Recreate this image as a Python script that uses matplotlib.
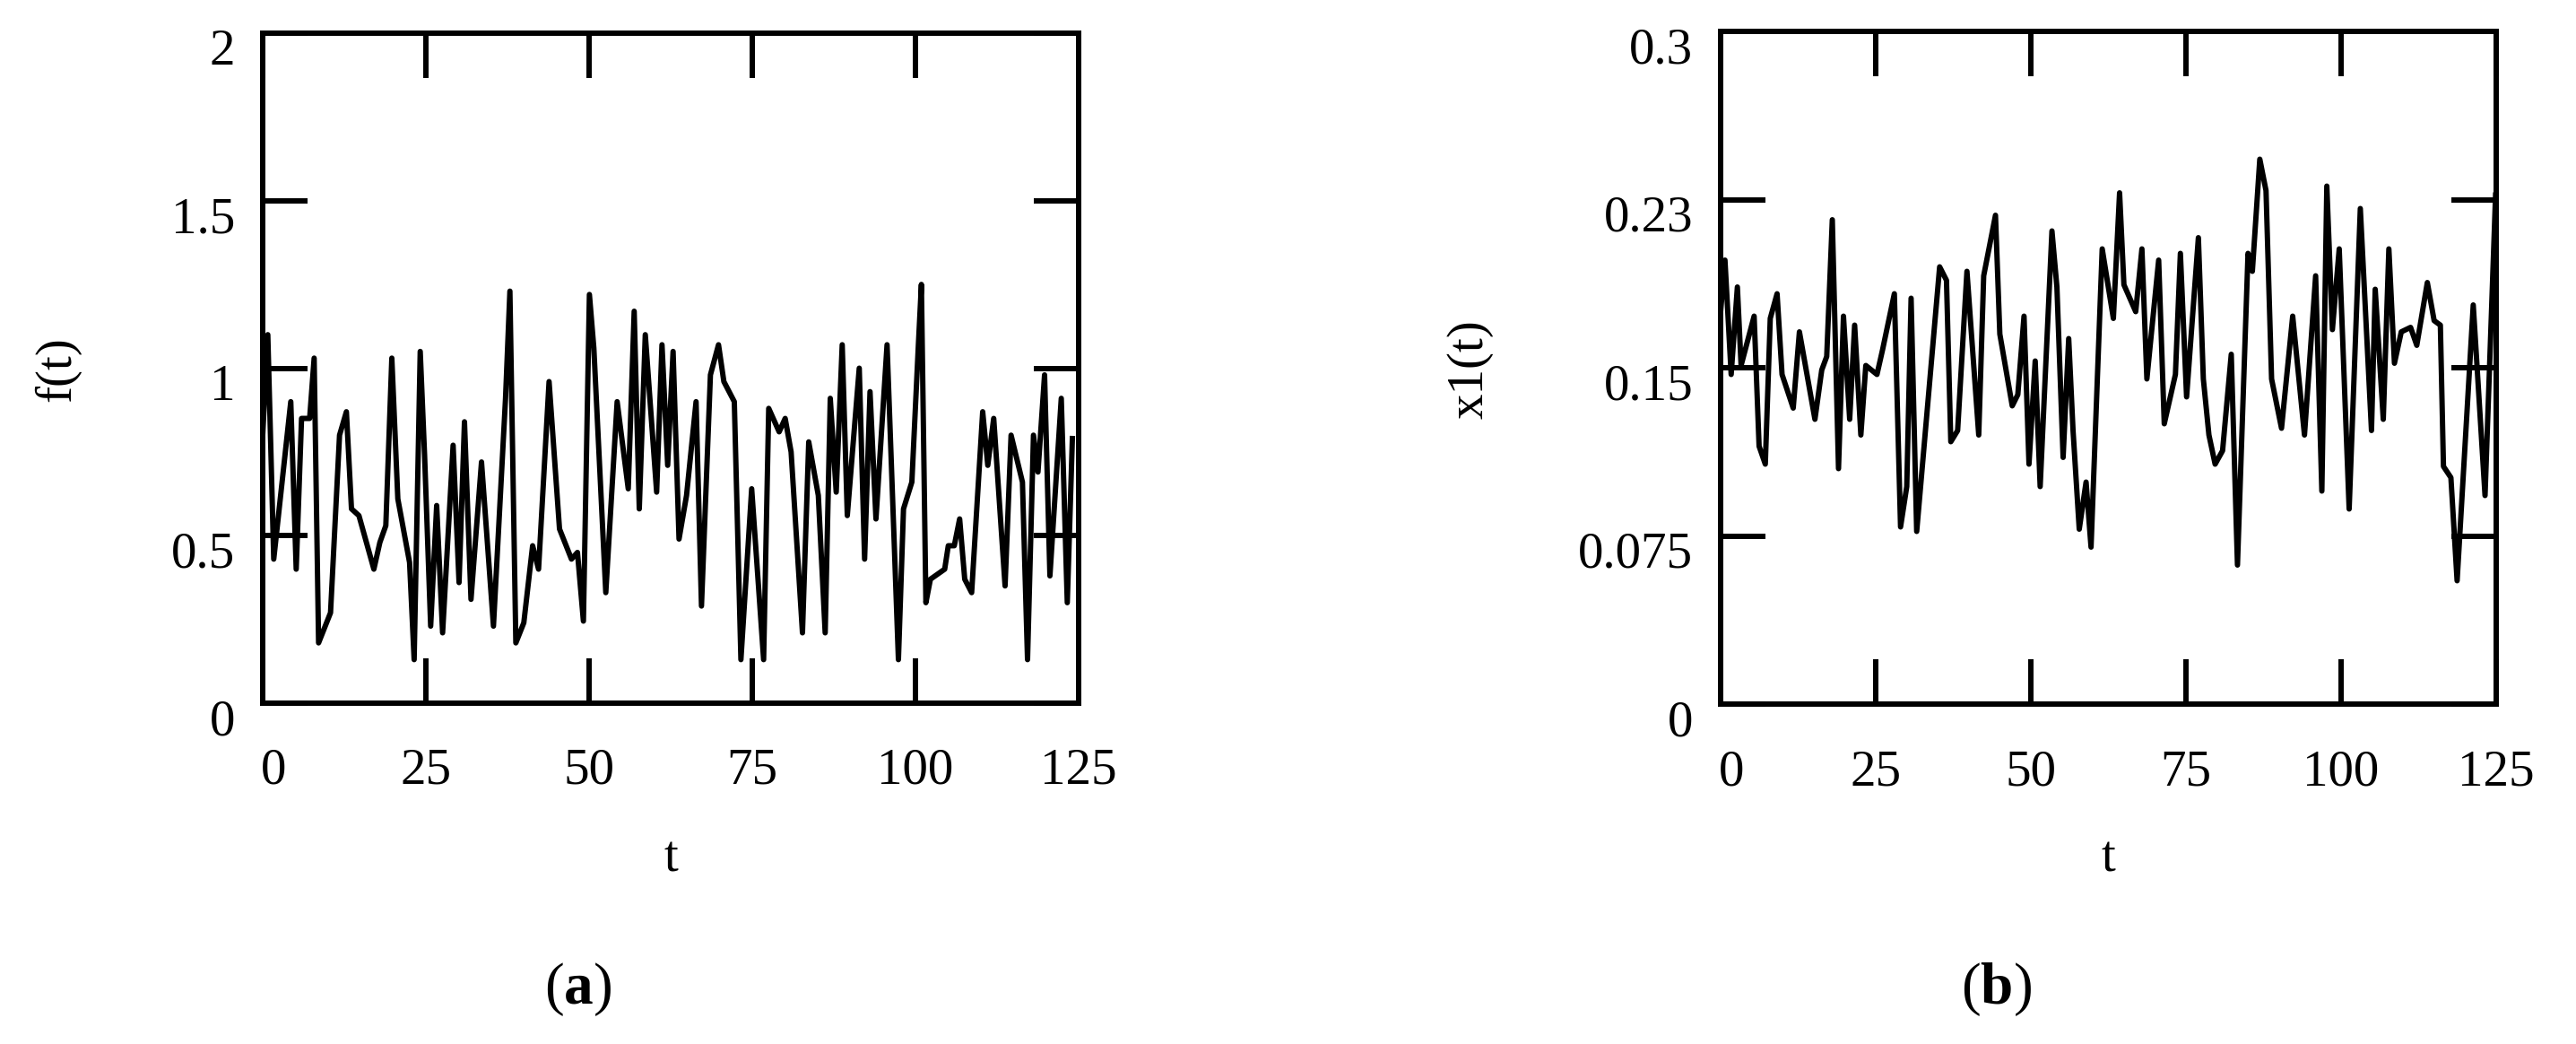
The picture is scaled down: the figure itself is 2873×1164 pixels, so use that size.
import matplotlib
matplotlib.use('Agg')
import matplotlib.pyplot as plt
from matplotlib.transforms import ScaledTranslation

plt.rcParams['font.family'] = ['Liberation Serif', 'DejaVu Serif']
plt.rcParams['mathtext.fontset'] = 'custom'
plt.rcParams['mathtext.rm'] = 'Liberation Serif'
plt.rcParams['mathtext.bf'] = 'Liberation Serif:bold'

# ---------------- data ----------------
x_ticks = [0, 25, 50, 75, 100, 125]
x_tick_labels = ['0', '25', '50', '75', '100', '125']

f_y_ticks = [0, 0.5, 1, 1.5, 2]
f_y_tick_labels = ['0', '0.5', '1', '1.5', '2']

x1_y_ticks = [0, 0.075, 0.15, 0.225, 0.3]
x1_y_tick_labels = ['0', '0.075', '0.15', '0.23', '0.3']

# panel (a): f(t)
f_t = [0, 0.78, 1.69, 4.30, 5.13, 5.95, 7.19, 7.88, 8.56, 10.39, 11.77, 12.82,
       13.60, 14.74, 17.03, 17.95, 18.86, 19.78, 20.70, 22.5, 23.2, 24.13, 24.8,
       25.73, 26.65, 27.56, 29.17, 30.08, 30.91, 31.91, 33.52, 35.35, 37.2, 37.87,
       38.78, 40.0, 41.35, 42.26, 43.87, 45.47, 47.30, 48.22, 49.13, 50.05, 50.73,
       52.56, 54.30, 56.00, 56.91, 57.69, 58.61, 60.35, 61.17, 62.04, 62.87, 63.78,
       64.93, 66.39, 67.22, 68.59, 69.83, 70.65, 72.25, 73.26, 74.91, 76.74, 77.52,
       79.12, 80.04, 80.95, 82.69, 83.65, 85.12, 86.17, 86.95, 87.86, 88.78, 89.56,
       91.39, 92.21, 93.04, 93.95, 95.65, 97.39, 98.17, 99.45, 100.45, 100.91,
       101.60, 102.29, 104.48, 105.03, 105.95, 106.77, 107.55, 108.61, 110.30,
       111.08, 111.99, 113.73, 114.65, 116.39, 117.17, 118.08, 118.77, 119.78,
       120.60, 122.34, 123.26, 124.04]
f_val = [0.80, 1.10, 0.43, 0.90, 0.40, 0.85, 0.85, 1.03, 0.18, 0.27, 0.80, 0.87,
         0.58, 0.56, 0.40, 0.48, 0.53, 1.03, 0.61, 0.42, 0.13, 1.05, 0.74,
         0.23, 0.59, 0.21, 0.77, 0.36, 0.84, 0.31, 0.72, 0.23, 0.91, 1.23,
         0.18, 0.24, 0.47, 0.40, 0.96, 0.52, 0.43, 0.45, 0.245, 1.22, 1.06,
         0.33, 0.90, 0.64, 1.17, 0.58, 1.10, 0.63, 1.07, 0.71, 1.05, 0.49,
         0.62, 0.90, 0.29, 0.98, 1.07, 0.96, 0.90, 0.13, 0.64, 0.13, 0.88,
         0.81, 0.85, 0.75, 0.21, 0.78, 0.62, 0.21, 0.91, 0.63, 1.07, 0.56,
         1.00, 0.43, 0.93, 0.55, 1.07, 0.13, 0.58, 0.66, 1.07, 1.25,
         0.30, 0.37, 0.40, 0.47, 0.47, 0.55, 0.37, 0.33, 0.87,
         0.71, 0.85, 0.35, 0.80, 0.66, 0.13, 0.80, 0.69, 0.98,
         0.38, 0.91, 0.30, 0.79]

# panel (b): x1(t)
x1_t = [0, 0.7, 1.7, 2.7, 3.3, 5.4, 6.2, 7.2, 8.0, 9.1, 9.9, 11.7, 12.7, 15.2,
        16.3, 17.1, 18.0, 19.0, 19.8, 20.8, 21.6, 22.6, 23.4, 25.2, 26.1, 28.0,
        29.0, 30.0, 30.7, 31.6, 35.3, 36.4, 37.1, 38.2, 39.7, 41.6, 42.4, 44.3,
        45.0, 47.0, 47.9, 48.9, 49.7, 50.7, 51.5, 53.4, 54.2, 55.2, 56.1, 56.8,
        57.8, 58.9, 59.7, 61.5, 63.3, 64.3, 65.0, 66.9, 67.9, 68.7, 70.6, 71.5,
        73.3, 74.1, 75.1, 77.0, 77.8, 78.7, 79.7, 80.9, 82.3, 83.3, 85.0, 85.7,
        86.9, 87.9, 88.8, 90.4, 92.2, 94.1, 95.9, 96.9, 97.7, 98.6, 99.7, 101.3,
        103.1, 104.9, 105.5, 106.8, 107.7, 108.6, 109.7, 111.2, 112.2, 113.9,
        115.0, 116.0, 116.5, 117.7, 118.7, 121.3, 123.2, 124.9]
x1_val = [0.175, 0.198, 0.147, 0.186, 0.151, 0.173, 0.115, 0.107, 0.172, 0.183,
          0.147, 0.132, 0.166, 0.127, 0.149, 0.155, 0.216, 0.105, 0.173, 0.127,
          0.169, 0.120, 0.151, 0.147, 0.158, 0.183, 0.079, 0.097, 0.181, 0.077,
          0.195, 0.189, 0.117, 0.122, 0.193, 0.120, 0.191, 0.218, 0.165, 0.133,
          0.138, 0.173, 0.107, 0.153, 0.097, 0.211, 0.186, 0.110, 0.163, 0.122,
          0.078, 0.099, 0.070, 0.203, 0.172, 0.228, 0.187, 0.175, 0.203, 0.145,
          0.198, 0.125, 0.147, 0.201, 0.137, 0.208, 0.145, 0.120, 0.107, 0.113,
          0.156, 0.062, 0.201, 0.193, 0.243, 0.229, 0.145, 0.123, 0.173, 0.120,
          0.191, 0.095, 0.231, 0.167, 0.203, 0.087, 0.221, 0.122, 0.185, 0.127,
          0.203, 0.152, 0.166, 0.168, 0.160, 0.188, 0.171, 0.169, 0.106, 0.101,
          0.055, 0.178, 0.093, 0.227]

# ---------------- figure ----------------
W, H = 2873, 1164
fig = plt.figure(figsize=(W / 100, H / 100), dpi=100)

LW = 4.3
FS = 41


def px(x0, y0, x1, y1):
    return [x0 / W, 1 - y1 / H, (x1 - x0) / W, (y1 - y0) / H]


ax1 = fig.add_axes(px(293, 37, 1203, 784))
ax2 = fig.add_axes(px(1919, 35, 2784, 785))


def style(ax, yticks, ylabels, ylim):
    ax.set_xlim(0, 125)
    ax.set_ylim(*ylim)
    ax.set_xticks(x_ticks)
    ax.set_xticklabels(x_tick_labels)
    ax.set_yticks(yticks)
    ax.set_yticklabels(ylabels)
    for s in ax.spines.values():
        s.set_linewidth(LW)
    ax.tick_params(axis='both', direction='in', length=36, width=LW,
                   top=True, right=True, labelsize=FS)
    ax.tick_params(axis='x', pad=36)
    ax.tick_params(axis='y', pad=22)
    off = ScaledTranslation(0, -11 / 72, fig.dpi_scale_trans)
    for lab in ax.get_yticklabels():
        lab.set_transform(lab.get_transform() + off)
    first = ax.get_xticklabels()[0]
    first.set_transform(first.get_transform() +
                        ScaledTranslation(9 / 72, 0, fig.dpi_scale_trans))


ax1.plot(f_t, f_val, color='black', lw=LW, solid_joinstyle='round')
style(ax1, f_y_ticks, f_y_tick_labels, (0, 2))

ax2.plot(x1_t, x1_val, color='black', lw=LW, solid_joinstyle='round')
style(ax2, x1_y_ticks, x1_y_tick_labels, (0, 0.3))

fig.text(64 / W, 1 - 412 / H, 'f(t)', rotation=90, fontsize=FS,
         ha='center', va='center')
fig.text(1640 / W, 1 - 412 / H, 'x1(t)', rotation=90, fontsize=FS,
         ha='center', va='center')
fig.text(748 / W, 1 - 958 / H, 't', fontsize=FS, ha='center', va='center')
fig.text(2351 / W, 1 - 958 / H, 't', fontsize=FS, ha='center', va='center')
fig.text(645 / W, 1 - 1103 / H, r'($\mathbf{a}$)', fontsize=47,
         ha='center', va='center')
fig.text(2226 / W, 1 - 1103 / H, r'($\mathbf{b}$)', fontsize=47,
         ha='center', va='center')

fig.savefig('out.png', dpi=100)
